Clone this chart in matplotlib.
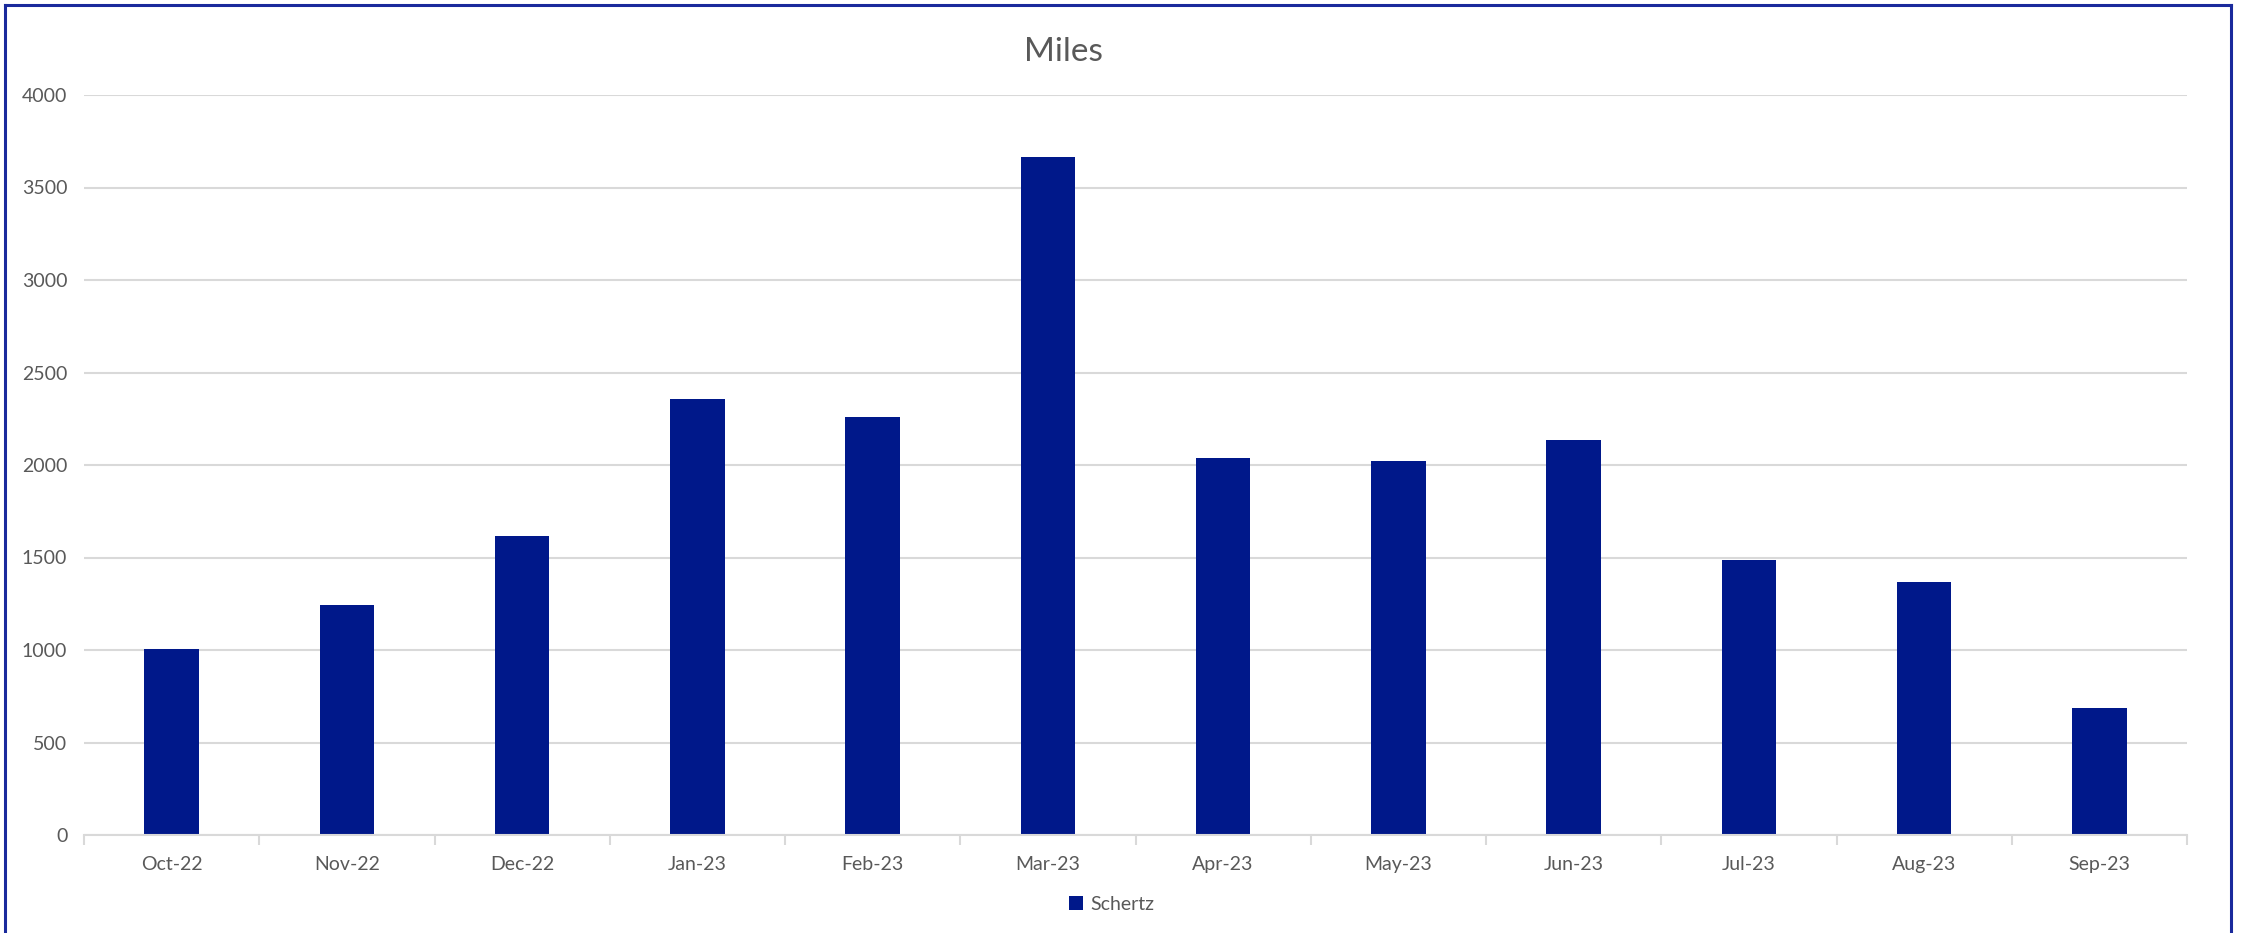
import matplotlib
matplotlib.use("Agg")
import matplotlib.pyplot as plt
from matplotlib.lines import Line2D
from matplotlib.ticker import FixedLocator

months = ["Oct-22", "Nov-22", "Dec-22", "Jan-23", "Feb-23", "Mar-23",
          "Apr-23", "May-23", "Jun-23", "Jul-23", "Aug-23", "Sep-23"]
miles = [1005, 1243, 1616, 2357, 2259, 3665, 2038, 2022, 2135, 1486, 1368, 685]
series_name = "Schertz"
yticks = [0, 500, 1000, 1500, 2000, 2500, 3000, 3500, 4000]

W, H = 2244, 933
plt.rcParams['font.family'] = ['Lato', 'DejaVu Sans']
text_color = "#595959"
bar_color = "#00188A"
grid_color = "#D9D9D9"

fig = plt.figure(figsize=(W / 100, H / 100), dpi=100)
fig.patch.set_facecolor("white")

ax_l, ax_r, ax_b, ax_t = 84, 2187, 835, 95
ax = fig.add_axes([ax_l / W, 1 - ax_b / H, (ax_r - ax_l) / W, (ax_b - ax_t) / H])

x = list(range(len(months)))
ax.bar(x, miles, width=0.31, color=bar_color, label=series_name, zorder=3)

ax.set_xlim(-0.5, len(months) - 0.5)
ax.set_ylim(0, 4000)
ax.set_yticks(yticks)
ax.set_yticklabels([str(v) for v in yticks])
ax.yaxis.grid(True, color=grid_color, linewidth=1.5, zorder=0)
ax.tick_params(axis='y', length=0, pad=12, labelsize=14, labelcolor=text_color)

ax.set_xticks(x)
ax.set_xticklabels(months)
ax.xaxis.set_minor_locator(FixedLocator([i - 0.5 for i in range(len(months) + 1)]))
ax.tick_params(axis='x', which='major', length=0, pad=15, labelsize=14, labelcolor=text_color)
ax.tick_params(axis='x', which='minor', length=7, width=1.5, color=grid_color)

for s in ['top', 'right', 'left']:
    ax.spines[s].set_visible(False)
ax.spines['bottom'].set_color(grid_color)
ax.spines['bottom'].set_linewidth(1.5)
ax.spines['bottom'].set_zorder(4)

fig.text(1063 / W, 1 - 52 / H, "Miles", ha='center', va='center', fontsize=24, color=text_color)

handles, labels = ax.get_legend_handles_labels()
leg = fig.legend(handles, labels, loc='center', bbox_to_anchor=(1112 / W, 1 - 904 / H),
                 frameon=False, fontsize=14, handlelength=0.7, handleheight=0.7,
                 handletextpad=0.4, labelcolor=text_color)

border_color = "#1A2A9C"
lw = 2.2
fig.add_artist(Line2D([5 / W, 5 / W], [0, 1 - 5 / H], color=border_color, linewidth=lw, transform=fig.transFigure))
fig.add_artist(Line2D([2231 / W, 2231 / W], [0, 1 - 5 / H], color=border_color, linewidth=lw, transform=fig.transFigure))
fig.add_artist(Line2D([5 / W, 2231 / W], [1 - 5 / H, 1 - 5 / H], color=border_color, linewidth=lw, transform=fig.transFigure))

fig.savefig("out.png", dpi=100, facecolor="white")
